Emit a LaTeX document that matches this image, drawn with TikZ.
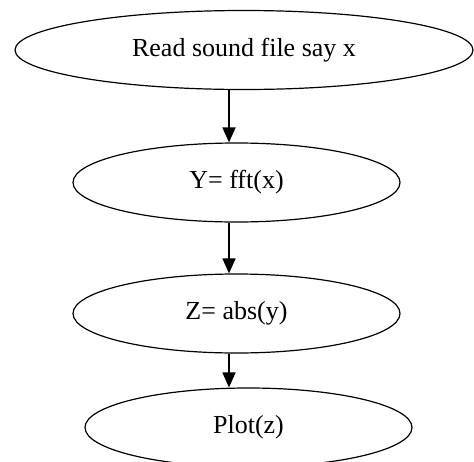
\documentclass[tikz,border=0pt]{standalone}
\usepackage{fontspec}
\setmainfont{Liberation Serif}
\usetikzlibrary{shapes.geometric,arrows.meta}
\begin{document}
\begin{tikzpicture}[x=1pt,y=-1pt,
  oval/.style={draw,ellipse,line width=1.2pt,inner sep=0pt,font=\fontsize{26}{30}\selectfont},
  flow/.style={line width=1.8pt,-{Triangle[length=15pt,width=13pt]}}]
\useasboundingbox (0,0) rectangle (474,461);
\node[oval,minimum width=458pt,minimum height=79pt] (a) at (244,50) {Read sound file say x};
\node[oval,minimum width=327pt,minimum height=79pt] (b) at (236.5,182.5) {Y= fft(x)};
\node[oval,minimum width=327pt,minimum height=79pt] (c) at (236.5,313.5) {Z= abs(y)};
\node[oval,minimum width=327pt,minimum height=79pt] (d) at (248.5,427.5) {Plot(z)};
\coordinate (ax) at (229,0);
\draw[flow] (a.south -| ax) -- (b.north -| ax);
\draw[flow] (b.south -| ax) -- (c.north -| ax);
\draw[flow] (c.south -| ax) -- (d.north -| ax);
\end{tikzpicture}
\end{document}
